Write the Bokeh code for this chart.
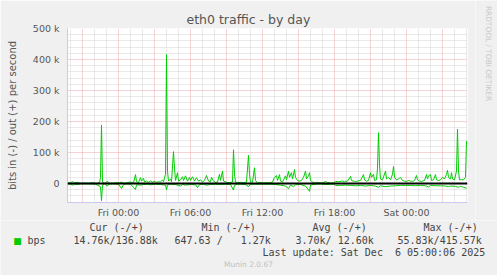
import math
from bokeh.plotting import figure
from bokeh.layouts import column, row
from bokeh.models import Range1d, FixedTicker, Grid, Label, Span
from bokeh.embed import file_html
from bokeh.resources import INLINE

# ---- data (time in minutes since Fri 00:00, values in kbit/s) ----
out_t = [-255, -240, -230, -220, -205, -190, -170, -150, -130, -110, -95, -90, -85, -80, -70, -60, -55, -50,
         -30, -10, 5, 15, 25, 40, 55, 65, 75, 85, 90, 100, 110, 115, 125, 130, 140, 150, 160, 170, 180, 190,
         200, 210, 220, 225, 235, 240, 245, 250, 260, 265, 275, 280, 285, 295, 300, 310, 320, 325, 335, 345,
         355, 360, 370, 380, 390, 400, 410, 420, 430, 440, 450, 460, 465, 475, 485, 495, 505, 510, 520, 525,
         540, 555, 570, 575, 580, 585, 595, 610, 625, 640, 650, 655, 660, 670, 680, 685, 695, 710, 725, 740,
         755, 770, 780, 790, 795, 805, 810, 820, 835, 840, 850, 855, 865, 870, 880, 885, 895, 905, 915, 925,
         935, 940, 950, 955, 960, 970, 980, 990, 1005, 1020, 1035, 1045, 1060, 1075, 1085, 1100, 1115, 1130,
         1145, 1160, 1165, 1180, 1195, 1210, 1225, 1230, 1240, 1250, 1260, 1265, 1275, 1280, 1290, 1295, 1300,
         1305, 1310, 1320, 1335, 1340, 1350, 1360, 1370, 1375, 1380, 1390, 1400, 1410, 1420, 1430, 1440, 1450,
         1460, 1470, 1480, 1490, 1495, 1505, 1515, 1530, 1540, 1545, 1550, 1560, 1565, 1575, 1585, 1590, 1600,
         1610, 1620, 1630, 1640, 1645, 1650, 1660, 1665, 1670, 1680, 1690, 1695, 1700, 1705, 1715, 1725, 1735,
         1740]
out_v = [2, 3, 6, 2, 4, 1, 2, 1, 3, 1, 2, 20, 189, 5, 1, 4, 8, 2,
         1, 3, 2, 5, 1, 2, 5, 4, 2, 29, 6, 3, 19, 8, 17, 5, 8, 4, 9, 5, 7, 4,
         6, 5, 12, 6, 30, 416, 40, 8, 15, 6, 103, 50, 10, 35, 8, 12, 22, 10, 25, 8,
         20, 10, 22, 8, 19, 8, 12, 5, 10, 26, 8, 6, 20, 8, 4, 5, 30, 10, 40, 8,
         4, 3, 5, 109, 30, 5, 3, 4, 3, 5, 91, 30, 4, 5, 51, 10, 2, 3, 2, 3,
         2, 5, 20, 26, 10, 29, 8, 5, 25, 12, 40, 20, 35, 15, 45, 20, 10, 8, 10, 20,
         40, 15, 25, 35, 10, 5, 3, 4, 3, 2, 7, 3, 2, 2, 7, 6, 8, 7,
         8, 23, 10, 7, 8, 10, 29, 12, 8, 10, 35, 20, 30, 10, 12, 50, 164,
         60, 15, 12, 40, 15, 20, 12, 30, 55, 20, 12, 15, 20, 10, 8, 7, 10,
         8, 7, 10, 26, 12, 8, 7, 10, 29, 15, 25, 29, 10, 12, 29, 12, 10,
         12, 20, 15, 30, 43, 20, 15, 35, 15, 12, 40, 176, 40, 12, 13, 12, 20,
         137]

in_t = [-255, -240, -230, -220, -205, -190, -165, -140, -115, -90, -85, -80, -70, -55, -50, -30, 0, 15, 25,
        40, 60, 85, 90, 110, 125, 145, 160, 185, 210, 235, 240, 245, 260, 285, 310, 320, 335, 360, 385, 395,
        405, 425, 440, 460, 485, 510, 535, 560, 575, 580, 595, 610, 635, 650, 660, 685, 710, 735, 760, 785,
        810, 835, 850, 860, 875, 885, 910, 935, 955, 960, 985, 1010, 1035, 1060, 1080, 1085, 1110, 1135, 1160,
        1185, 1210, 1235, 1260, 1285, 1300, 1310, 1335, 1360, 1385, 1410, 1435, 1460, 1485, 1510, 1535, 1550,
        1560, 1585, 1610, 1635, 1650, 1660, 1685, 1700, 1710, 1725, 1740]
in_v = [-1, -2, -5, -2, -3, -1, -1, -1, -2, -10, -55, -5, -1, -8, -2, -1, -2, -16, -3,
        -1, -2, -19, -4, -5, -3, -2, -4, -2, -3, -5, -20, -5, -2, -3, -8, -3, -5, -3, -4, -13,
        -3, -2, -5, -3, -2, -3, -2, -3, -21, -5, -2, -2, -3, -10, -2, -2, -2, -2, -2, -3,
        -5, -8, -16, -5, -10, -4, -3, -8, -25, -5, -2, -1, -3, -2, -2, -6, -6, -5, -6,
        -7, -6, -8, -6, -8, -12, -7, -10, -8, -7, -6, -6, -6, -7, -6, -7, -11,
        -6, -7, -7, -8, -10, -8, -9, -12, -9, -12, -15]

x_label_pos = [0, 360, 720, 1080, 1440]
x_labels = ["Fri 00:00", "Fri 06:00", "Fri 12:00", "Fri 18:00", "Sat 00:00"]
y_label_pos = [0, 100, 200, 300, 400, 500]
y_labels = ["0", "100 k", "200 k", "300 k", "400 k", "500 k"]

NBSP = "\u00a0"
title = "eth0 traffic - by day"
y_title = "bits in (-) / out (+) per second"
side_text = "RRDTOOL / TOBI OETIKER"
series_name = "bps"
col_heads = ["Cur (-/+)", "Min (-/+)", "Avg (-/+)", "Max (-/+)"]
col_values = ["14.76k/136.88k", "647.63 /" + NBSP * 3 + "1.27k", "3.70k/ 12.60k", "55.83k/415.57k"]
last_update = "Last update: Sat Dec" + NBSP * 2 + "6 05:00:06 2025"
footer = "Munin 2.0.67"

GREEN = "#00CC00"
AXIS = "#C8C8F0"
BG = "#F0F0F0"
TXT = "#444444"
W, H = 497, 275
MAIN_W, MAIN_H = 475, 220
L, T, B = 67, 28, 17

# ---------------- main chart ----------------
p = figure(width=MAIN_W, height=MAIN_H, output_backend="svg", toolbar_location=None,
           x_range=Range1d(-255, 1745), y_range=Range1d(-61, 500),
           min_border_left=L, min_border_right=MAIN_W - L - 400, min_border_top=T, min_border_bottom=B)
p.background_fill_color = "white"
p.border_fill_color = BG
p.outline_line_color = None

p.title.text = title
p.title.align = "left"
p.title.offset = 119
p.title.standoff = 4
p.title.text_font = "DejaVu Sans"
p.title.text_font_size = "12.5px"
p.title.text_font_style = "normal"
p.title.text_color = "#555555"

p.xgrid.visible = False
p.ygrid.visible = False
minor_x = [m for m in range(-240, 1745, 60) if m % 180 != 0]
major_x = [m for m in range(-180, 1745, 180)]
minor_y = [v for v in range(-60, 501, 20) if v % 100 != 0]
major_y = [v for v in range(100, 501, 100)]
for dim, ticks, col in [(0, minor_x, "#D4D4D4"), (1, minor_y, "#D4D4D4"),
                        (0, major_x, "#E8A8A8"), (1, major_y, "#E8A8A8")]:
    p.add_layout(Grid(dimension=dim, ticker=FixedTicker(ticks=ticks), grid_line_color=col,
                      grid_line_dash="1 1", grid_line_width=1))

for ax in (p.xaxis[0], p.yaxis[0]):
    ax.axis_line_color = AXIS
    ax.major_tick_line_color = None
    ax.minor_tick_line_color = None
    ax.major_tick_out = 0
    ax.major_tick_in = 0
    ax.minor_tick_out = 0
    ax.minor_tick_in = 0
    ax.major_label_text_font = "DejaVu Sans"
    ax.major_label_text_font_size = "9.5px"
    ax.major_label_text_color = "#555555"
p.xaxis.ticker = FixedTicker(ticks=x_label_pos)
p.xaxis.major_label_overrides = dict(zip(x_label_pos, x_labels))
p.xaxis.major_label_standoff = 4
p.yaxis.ticker = FixedTicker(ticks=y_label_pos)
p.yaxis.major_label_overrides = dict(zip(y_label_pos, y_labels))
p.yaxis.major_label_standoff = 8
p.yaxis.axis_label = y_title
p.yaxis.axis_label_text_font = "DejaVu Sans"
p.yaxis.axis_label_text_font_size = "10px"
p.yaxis.axis_label_text_font_style = "normal"
p.yaxis.axis_label_text_color = "#555555"
p.yaxis.axis_label_standoff = 12

p.line(out_t, out_v, line_color=GREEN, line_width=1)
p.line(in_t, in_v, line_color=GREEN, line_width=1)
p.add_layout(Span(location=0, dimension="width", line_color="black", line_width=2))


def text_fig(w, h):
    f = figure(width=w, height=h, output_backend="svg", toolbar_location=None,
               x_range=Range1d(0, w), y_range=Range1d(0, h),
               min_border_left=0, min_border_right=0, min_border_top=0, min_border_bottom=0)
    f.axis.visible = False
    f.grid.visible = False
    f.outline_line_color = None
    f.background_fill_color = BG
    f.border_fill_color = BG
    if "frame_align" in f.properties():
        f.frame_align = False
    return f


def lab(f, h, x0, y0, text, X, Y, size, color, align="left", font="DejaVu Sans Mono", angle=0.0):
    # X, Y are page pixel positions; converted to the figure's own screen units
    f.add_layout(Label(x=X - x0, y=(y0 + h) - Y, x_units="screen", y_units="screen", text=text,
                       text_font=font, text_font_size=f"{size}px", text_color=color,
                       text_align=align, text_baseline="middle", angle=angle))


# ---------------- side strip (right) ----------------
SIDE_W = W - MAIN_W
side = text_fig(SIDE_W, MAIN_H)
lab(side, MAIN_H, MAIN_W, 0, side_text, 488, 53, 7.4, "#C8C8C8", align="center", font="DejaVu Sans",
    angle=-math.pi / 2)

# ---------------- legend strip (bottom) ----------------
LEG_H = H - MAIN_H
leg = text_fig(W, LEG_H)
Y0 = MAIN_H
lab(leg, LEG_H, 0, Y0, "\u25a0", 17, 240, 9, GREEN, align="center", font="DejaVu Sans")
lab(leg, LEG_H, 0, Y0, series_name, 27, 240, 10, TXT)
head_x = [89, 201, 312, 423]
val_x = [73, 174, 295, 397]
for hx, txt in zip(head_x, col_heads):
    lab(leg, LEG_H, 0, Y0, txt, hx, 227, 10, TXT)
for vx, txt in zip(val_x, col_values):
    lab(leg, LEG_H, 0, Y0, txt, vx, 240, 10, TXT)
lab(leg, LEG_H, 0, Y0, last_update, 262, 252, 10, TXT)
lab(leg, LEG_H, 0, Y0, footer, 248, 264, 7.5, "#C0C0C0", align="center", font="DejaVu Sans")

layout = column(row(p, side, spacing=0), leg, spacing=0)
open("out.html", "w").write(file_html(layout, INLINE))
